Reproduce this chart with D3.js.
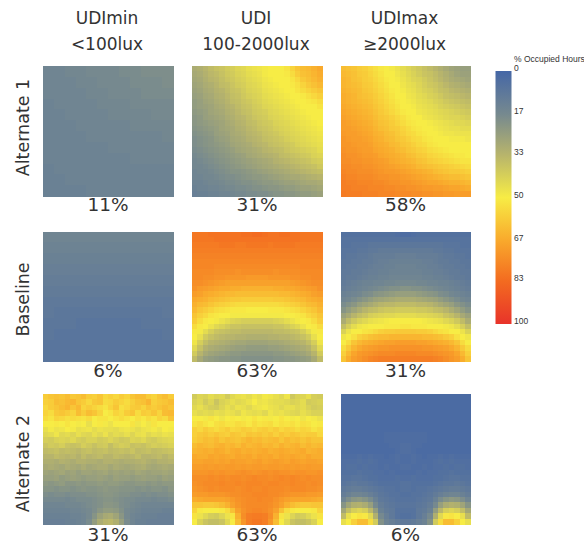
<!DOCTYPE html>
<html><head><meta charset="utf-8">
<script src="https://cdn.jsdelivr.net/npm/d3@7"></script>
<style>html,body{margin:0;padding:0;background:#fff}svg{display:block}</style>
</head><body><svg id="c" width="584" height="546"></svg>
<script>
const columnTitles = [["UDImin","<100lux"],["UDI","100-2000lux"],["UDImax","≥2000lux"]];
const rowTitles = ["Alternate 1","Baseline","Alternate 2"];
const percentLabels = [["11%","31%","58%"],["6%","63%","31%"],["31%","63%","6%"]];
const legendTitle = "% Occupied Hours";
const legendTicks = [0,17,33,50,67,83,100];
const colorStops = [0,17,33,50,67,83,100];
const colorValues = ["#4567a6","#76898f","#b7b46c","#f7ec45","#f9a92c","#f36b20","#e8332a"];

const alt1Min = [
[15,15,16,16,17,17,17,18,18,19,19,19],
[15,15,15,16,16,17,17,17,18,18,18,19],
[15,15,15,15,16,16,17,17,17,18,18,18],
[14,15,15,15,15,16,16,16,17,17,17,17],
[14,14,15,15,15,15,16,16,16,16,17,17],
[14,14,14,15,15,15,15,15,16,16,16,16],
[14,14,14,14,15,15,15,15,15,15,15,16],
[14,14,14,14,14,14,15,15,15,15,15,15],
[14,14,14,14,14,14,14,14,15,15,15,15],
[13,14,14,14,14,14,14,14,14,14,14,14],
[13,13,14,14,14,14,14,14,14,14,14,14],
[13,13,13,13,14,14,14,14,14,14,14,14]];
const alt1Udi = [
[30,31,33,35,37,38,40,41,43,44,46,47,48,49,50,50,50,52,56,60,62,63,65,67],
[29,30,32,34,35,37,39,40,42,43,45,46,47,49,50,50,50,51,54,58,61,62,64,66],
[28,29,31,33,34,36,38,39,41,42,44,45,46,48,49,50,50,50,52,55,59,61,63,65],
[27,28,30,31,33,35,36,38,40,41,43,44,45,47,48,49,50,50,51,53,56,59,61,63],
[26,27,29,30,32,33,35,37,38,40,42,43,44,46,47,48,49,50,50,52,54,56,58,60],
[25,26,28,29,31,32,34,36,37,39,41,42,43,45,46,47,48,49,50,50,51,53,55,57],
[24,25,27,28,30,31,33,35,36,38,39,41,42,44,45,46,47,48,49,50,50,51,52,54],
[24,25,26,27,29,30,32,33,35,37,38,40,41,43,44,45,46,47,48,49,50,50,50,52],
[23,24,25,27,28,29,31,32,34,36,37,39,40,41,43,44,45,46,47,48,49,50,50,50],
[22,23,25,26,27,28,30,31,33,34,36,38,39,40,42,43,44,45,46,47,48,49,50,50],
[22,23,24,25,26,27,29,30,32,33,35,36,38,39,40,42,43,44,45,46,47,48,49,50],
[21,22,23,24,25,27,28,29,31,32,34,35,37,38,39,41,42,43,44,45,46,47,48,49],
[20,21,22,23,25,26,27,29,30,31,33,34,35,37,38,39,41,42,43,44,45,46,47,48],
[19,20,21,22,24,25,26,28,29,30,32,33,34,36,37,38,39,41,42,43,44,45,46,47],
[19,20,21,22,23,24,25,27,28,29,30,32,33,34,36,37,38,39,40,42,43,44,45,46],
[18,19,20,21,22,23,24,25,27,28,29,30,31,33,34,35,36,38,39,40,41,42,43,45],
[17,18,19,20,21,22,23,24,25,26,28,29,30,31,32,33,35,36,37,38,39,40,42,43],
[16,17,18,19,20,21,22,23,24,25,26,27,28,29,30,32,33,34,35,36,37,38,40,41],
[16,16,17,18,19,20,21,22,23,24,25,26,27,28,29,30,31,32,33,34,35,36,37,39],
[15,16,16,17,18,19,20,21,21,22,23,24,25,26,27,28,29,30,31,32,33,34,35,36],
[15,15,16,16,17,18,19,19,20,21,22,23,23,24,25,26,27,28,29,29,30,31,32,33],
[14,14,15,16,16,17,18,18,19,20,20,21,22,23,23,24,25,26,26,27,28,29,29,30],
[13,14,14,15,15,16,17,17,18,18,19,20,20,21,22,22,23,24,24,25,26,26,27,28],
[12,13,13,14,14,15,15,16,17,17,18,18,19,19,20,21,21,22,22,23,24,24,25,26]];
const alt1Max = [
[62,61,60,58,57,55,53,51,50,49,47,45,43,41,39,37,35,33,31,29,27,26,25,25],
[63,62,61,59,58,56,54,52,50,50,48,46,44,42,40,38,37,35,33,31,29,27,26,26],
[64,63,61,60,58,57,55,53,51,50,49,47,45,43,42,40,38,36,34,32,30,29,28,27],
[64,63,62,61,59,58,56,54,52,50,50,48,46,45,43,41,39,38,36,34,32,31,30,29],
[65,64,63,62,60,59,57,55,53,51,50,49,47,46,44,42,41,39,37,36,34,33,32,31],
[66,65,64,62,61,60,58,56,54,52,50,50,48,47,45,44,42,41,39,37,36,35,34,33],
[66,65,64,63,62,61,59,57,55,53,51,50,49,48,46,45,44,42,41,39,38,37,36,35],
[67,66,65,64,63,62,60,58,56,54,52,50,50,49,47,46,45,44,42,41,40,39,38,37],
[68,67,66,65,64,63,61,59,57,55,53,51,50,50,48,47,46,45,44,43,42,41,40,39],
[69,68,67,66,65,64,62,60,59,57,55,53,51,50,50,48,47,46,45,44,43,43,42,41],
[70,69,68,67,66,65,63,61,60,58,56,54,52,51,50,50,49,48,47,46,45,44,44,43],
[70,70,69,68,67,66,64,62,61,59,58,56,54,52,51,50,50,49,48,47,46,46,45,45],
[71,70,70,69,68,67,65,64,62,61,59,57,55,54,52,51,50,50,49,48,48,47,47,47],
[72,71,70,70,69,68,66,65,63,62,60,59,57,55,54,52,51,50,50,50,49,49,49,48],
[72,72,71,70,70,69,67,66,65,63,62,60,59,57,55,54,52,51,50,50,50,50,50,50],
[73,72,72,71,70,70,68,67,66,65,63,62,60,59,57,56,54,53,52,51,50,50,50,50],
[74,73,73,72,71,71,70,68,67,66,65,64,62,61,59,58,56,55,54,53,52,51,51,50],
[74,74,73,73,72,72,71,70,69,67,66,65,64,63,61,60,58,57,56,55,54,53,52,52],
[75,75,74,74,73,73,72,71,70,69,68,67,66,65,63,62,61,60,59,58,57,56,55,54],
[76,75,75,74,74,74,73,72,71,71,70,69,68,67,66,65,64,62,61,60,59,59,58,57],
[77,76,76,75,75,75,74,73,73,72,72,71,70,69,68,67,66,65,64,63,62,62,61,60],
[78,77,77,76,76,76,75,75,74,73,73,72,72,71,70,69,68,68,67,66,65,65,64,63],
[78,78,77,77,77,76,76,76,75,75,74,74,73,73,72,71,71,70,70,69,68,68,67,66],
[79,78,78,78,77,77,77,76,76,76,75,75,75,74,74,73,73,72,72,71,71,70,70,70]];
const baseMin = [
[15,15,15,15,15,15,15,15,15,15,15,15],
[14,14,14,14,14,14,14,14,14,14,14,14],
[13,13,13,13,13,13,13,13,13,13,13,13],
[12,12,12,12,12,12,12,12,12,12,12,12],
[11,11,11,11,11,11,11,11,11,11,11,11],
[10,10,10,10,10,10,10,10,10,10,10,10],
[9,9,9,9,9,9,9,9,9,9,9,9],
[9,8,8,8,8,8,8,8,8,8,8,9],
[8,8,8,7,7,7,7,7,7,8,8,8],
[8,7,7,7,7,7,7,7,7,7,7,8],
[7,7,7,7,7,7,7,7,7,7,7,7],
[7,7,7,7,7,7,7,7,7,7,7,7]];
const baseUdi = [
[80,80,80,81,81,81,81,81,81,82,82,83,83,82,81,81,82,82,81,81,80,80,80,80],
[80,80,80,80,81,81,81,81,81,81,81,81,81,81,81,81,81,81,81,81,80,80,80,80],
[79,79,79,79,79,80,80,80,79,79,80,80,80,80,79,80,80,80,80,79,79,79,79,79],
[78,78,78,78,78,78,78,78,78,78,78,78,78,78,78,78,78,78,78,78,78,78,78,78],
[77,77,77,77,77,77,77,77,77,77,77,77,77,77,77,77,77,77,77,77,77,77,77,77],
[76,76,76,76,76,76,76,76,76,76,76,76,76,76,76,76,76,76,76,76,76,76,76,76],
[76,76,76,76,75,75,75,75,75,75,75,75,75,75,75,75,75,75,75,75,76,76,76,76],
[75,75,75,75,74,74,74,74,73,74,74,74,74,74,74,73,74,74,74,74,75,75,75,75],
[75,75,74,74,73,73,72,72,72,72,71,71,71,71,72,72,72,72,73,73,74,74,75,75],
[74,74,73,72,71,70,69,69,69,69,69,69,69,69,69,69,69,69,70,71,72,73,74,74],
[73,71,70,69,68,67,67,66,66,65,65,65,65,65,65,66,66,67,67,68,69,70,71,73],
[70,69,67,66,65,64,63,63,62,62,62,62,62,62,62,62,63,63,64,65,66,67,69,70],
[67,66,65,63,62,61,60,59,59,58,58,58,58,58,58,59,59,60,61,62,63,65,66,67],
[65,63,62,60,58,57,56,55,54,54,54,54,54,54,54,54,55,56,57,58,60,62,63,65],
[63,60,58,56,54,53,52,51,51,51,50,50,50,50,51,51,51,52,53,54,56,58,60,63],
[60,57,55,52,51,50,50,49,49,49,49,49,49,49,49,49,49,50,50,51,52,55,57,60],
[58,54,51,50,49,47,45,43,42,41,41,41,41,41,41,42,43,45,47,49,50,51,54,58],
[54,51,50,47,44,42,40,38,38,37,37,37,37,37,37,38,38,40,42,44,47,50,51,54],
[51,49,45,41,38,37,36,35,35,34,34,34,34,34,34,35,35,36,37,38,41,45,49,51],
[50,46,40,37,35,34,33,33,32,32,31,31,31,31,32,32,33,33,34,35,37,40,46,50],
[48,41,36,33,32,31,30,29,28,28,27,27,27,27,28,28,29,30,31,32,33,36,41,48],
[44,37,32,30,29,28,27,26,25,25,24,24,24,24,25,25,26,27,28,29,30,32,37,44],
[40,33,29,27,26,25,24,23,23,22,22,22,22,22,22,23,23,24,25,26,27,29,33,40],
[35,29,25,24,23,22,22,21,21,20,20,20,20,20,20,21,21,22,22,23,24,25,29,35]];
const baseMax = [
[5,5,5,5,5,5,5,5,5,5,4,3,3,4,5,5,5,5,5,5,5,5,5,5],
[6,6,6,6,6,6,6,6,6,6,6,6,6,6,6,6,6,6,6,6,6,6,6,6],
[6,6,7,7,7,8,8,8,8,8,8,8,8,8,8,8,8,8,8,7,7,7,6,6],
[7,7,7,8,8,9,9,10,10,10,10,10,10,10,10,10,10,9,9,8,8,7,7,7],
[7,8,8,9,9,10,11,11,11,11,12,12,12,12,11,11,11,11,10,9,9,8,8,7],
[8,8,9,9,10,10,11,12,12,13,13,13,13,13,13,12,12,11,10,10,9,9,8,8],
[8,9,9,10,10,11,12,12,13,13,14,14,14,14,13,13,12,12,11,10,10,9,9,8],
[9,9,10,10,11,12,12,13,13,14,14,14,14,14,14,13,13,12,12,11,10,10,9,9],
[9,10,10,11,12,13,13,14,14,15,15,15,15,15,15,14,14,13,13,12,11,10,10,9],
[10,11,12,13,14,14,15,15,16,16,17,17,17,17,16,16,15,15,14,14,13,12,11,10],
[11,12,13,14,15,16,17,18,19,20,20,21,21,20,20,19,18,17,16,15,14,13,12,11],
[13,14,15,16,18,19,21,22,23,24,25,25,25,25,24,23,22,21,19,18,16,15,14,13],
[15,16,18,20,22,24,26,27,28,29,30,30,30,30,29,28,27,26,24,22,20,18,16,15],
[18,20,22,25,27,29,31,33,34,34,35,35,35,35,34,34,33,31,29,27,25,22,20,18],
[21,24,27,30,33,35,36,38,39,39,40,40,40,40,39,39,38,36,35,33,30,27,24,21],
[26,29,33,36,38,41,42,43,44,44,45,45,45,45,44,44,43,42,41,38,36,33,29,26],
[30,35,39,42,44,46,47,48,49,50,50,50,50,50,50,49,48,47,46,44,42,39,35,30],
[36,41,45,48,49,50,50,50,51,51,51,52,52,51,51,51,50,50,50,49,48,45,41,36],
[42,47,50,50,52,53,55,57,58,58,59,59,59,59,58,58,57,55,53,52,50,50,47,42],
[48,50,53,57,59,61,62,63,63,64,64,64,64,64,64,63,63,62,61,59,57,53,50,48],
[50,54,60,63,65,66,67,68,69,69,70,70,70,70,69,69,68,67,66,65,63,60,54,50],
[54,59,64,67,69,70,71,72,72,73,73,73,73,73,73,72,72,71,70,69,67,64,59,54],
[57,63,68,71,72,73,74,75,75,75,76,76,76,76,75,75,75,74,73,72,71,68,63,57],
[60,66,70,72,74,76,77,78,78,78,78,78,78,78,78,78,78,77,76,74,72,70,66,60]];
const alt2Min = [
[58,60,61,60,62,59,60,62,58,57,60,55,57,55,58,56,60,62,62,58,56,60,62,58],
[57,58,62,61,63,64,60,58,55,59,60,54,55,58,56,54,57,60,61,64,57,59,60,62],
[55,58,60,62,64,60,63,56,58,56,54,52,56,60,53,55,58,59,56,60,58,60,62,60],
[56,54,59,60,58,56,62,58,62,60,56,50,52,56,54,58,60,54,58,57,60,56,62,63],
[54,52,56,55,53,54,53,52,54,50,52,52,50,52,54,52,50,53,51,54,52,56,54,60],
[50,50,51,50,52,50,49,50,46,50,51,49,47,50,50,50,52,48,50,48,52,50,50,50],
[46,49,47,48,50,49,46,47,48,45,47,46,46,45,47,48,47,45,47,48,49,47,50,49],
[44,45,48,44,45,43,46,44,43,46,44,47,43,45,44,46,43,46,47,44,46,45,47,46],
[41,40,42,43,42,44,41,40,42,42,40,41,43,41,39,40,43,42,44,41,40,42,43,44],
[38,40,39,41,38,37,38,41,39,37,39,40,36,39,41,40,37,38,37,39,41,40,41,42],
[35,36,37,35,36,35,34,36,37,35,36,37,35,36,37,36,38,35,36,37,35,36,37,38],
[33,33,35,34,33,34,32,35,33,34,35,33,33,35,34,33,34,36,33,33,34,35,33,35],
[31,31,30,32,31,30,32,32,31,31,30,32,32,31,30,31,31,32,33,31,30,32,32,33],
[29,30,29,28,30,29,28,30,28,29,30,30,28,30,29,28,29,30,31,29,28,29,30,29],
[27,26,27,28,26,27,25,27,27,26,27,28,26,27,26,27,26,28,27,26,27,27,28,27],
[25,25,26,24,25,26,25,24,25,25,26,25,24,26,25,25,24,25,26,25,25,24,26,25],
[23,22,23,24,22,22,23,22,23,23,24,23,24,24,23,22,22,23,23,22,23,22,23,23],
[21,21,20,21,21,20,21,22,21,21,22,23,22,22,21,21,21,20,21,20,21,21,20,22],
[19,18,19,19,18,19,19,19,20,20,21,22,22,21,20,20,19,19,18,19,18,19,19,20],
[17,17,17,17,16,17,18,18,18,19,20,21,21,20,19,18,18,17,17,17,16,17,17,18],
[15,15,15,15,16,16,16,17,18,19,20,22,22,21,19,18,17,16,15,15,15,15,15,15],
[14,14,14,14,14,15,15,16,17,19,22,24,24,23,20,17,16,15,14,14,14,14,13,13],
[13,13,13,13,13,14,14,15,17,21,26,29,30,27,22,17,15,14,13,13,13,12,12,12],
[12,12,12,12,13,13,14,15,18,24,30,33,34,31,25,18,15,13,13,12,12,12,12,12]];
const alt2Udi = [
[40,43,42,45,43,44,40,44,46,47,45,48,46,49,48,46,44,48,39,42,43,46,41,40],
[42,44,40,43,38,42,44,46,44,45,47,50,47,48,46,45,45,44,42,43,45,40,41,42],
[44,46,43,41,40,43,46,44,47,46,44,47,48,49,47,46,44,46,46,44,45,42,40,41],
[46,44,45,44,46,45,47,46,44,48,46,45,46,44,48,46,47,45,44,43,46,44,42,42],
[50,50,49,52,50,48,50,51,50,49,50,52,50,51,49,50,52,50,49,50,48,50,49,47],
[52,54,52,50,53,54,52,52,54,53,51,54,52,53,54,51,53,52,53,51,53,52,50,51],
[57,55,58,56,54,56,58,55,56,58,57,55,57,58,56,58,55,57,56,54,56,55,52,54],
[57,59,60,58,60,58,57,60,59,57,60,59,60,58,60,57,60,58,60,59,57,58,58,55],
[58,60,62,61,63,60,62,61,60,62,64,62,63,61,62,63,60,63,61,62,60,62,60,60],
[62,64,63,62,64,65,63,64,62,65,63,64,65,63,64,62,65,63,64,65,62,64,62,63],
[64,65,66,65,67,66,64,66,67,65,66,65,66,67,65,66,67,66,65,66,67,64,65,66],
[67,66,66,68,67,68,67,66,68,67,68,66,68,67,68,66,68,67,68,67,66,68,66,66],
[68,68,69,69,68,69,68,70,69,69,68,69,70,68,69,70,69,68,70,69,68,69,69,68],
[70,70,71,70,71,70,71,71,70,71,70,71,71,70,71,71,70,71,70,71,70,71,70,70],
[72,72,72,73,72,73,72,72,73,74,73,72,73,74,73,74,73,73,72,73,73,72,72,73],
[74,74,74,75,74,75,74,75,75,74,75,76,75,75,74,75,76,75,76,75,74,75,74,74],
[73,74,75,75,75,76,75,75,76,75,76,76,76,75,76,76,75,75,76,75,75,74,75,74],
[72,73,74,75,74,75,75,75,74,75,76,75,75,76,75,75,75,74,75,75,75,74,74,73],
[70,71,71,72,72,72,73,74,74,75,75,76,76,76,75,75,74,73,72,72,72,71,71,70],
[66,67,68,68,68,68,69,71,73,74,75,75,76,75,75,73,71,69,68,68,68,68,67,66],
[60,60,59,59,60,62,65,69,72,74,75,75,75,75,74,72,69,65,62,60,59,59,60,60],
[56,51,50,50,50,51,54,61,69,73,75,76,76,75,73,69,61,54,51,50,50,50,51,56],
[52,47,44,41,40,43,47,52,65,74,78,79,79,78,74,65,52,47,43,40,41,44,47,52],
[50,42,38,36,36,38,44,50,62,72,78,80,80,78,72,62,50,44,38,36,36,38,42,50]];
const alt2Max = [
[2,2,2,2,2,2,2,2,2,2,2,2,2,2,2,2,2,2,2,2,2,2,2,2],
[2,2,2,2,2,2,2,2,2,2,2,2,2,2,2,2,2,2,2,2,2,2,2,2],
[2,2,2,2,2,2,2,2,2,2,2,2,2,2,2,2,2,2,2,2,2,2,2,2],
[2,2,2,2,2,2,2,2,2,2,2,2,2,2,2,2,2,2,2,2,2,2,2,2],
[2,2,2,2,2,2,2,2,2,2,2,2,2,2,2,2,2,2,2,2,2,2,2,2],
[2,2,2,2,2,2,2,2,2,2,2,2,2,2,2,2,2,2,2,2,2,2,2,2],
[2,2,2,2,2,2,2,2,2,2,2,2,2,2,2,2,2,2,2,2,2,2,2,2],
[2,2,2,2,2,2,2,2,3,3,3,3,3,3,3,3,2,2,2,2,2,2,2,2],
[2,2,2,2,2,2,2,2,3,3,3,3,3,3,3,3,2,2,2,2,2,2,2,2],
[2,2,2,2,2,2,2,2,2,3,3,4,4,3,3,2,2,2,2,2,2,2,2,2],
[2,2,2,2,2,2,2,2,2,2,3,4,4,3,2,2,2,2,2,2,2,2,2,2],
[3,3,3,4,3,4,3,3,2,3,4,3,3,4,3,2,3,3,4,3,4,3,3,3],
[4,4,4,5,4,5,4,3,3,3,4,3,3,4,3,3,3,4,5,4,5,4,4,4],
[4,5,5,4,5,4,4,3,4,3,3,4,4,3,3,4,3,4,4,5,4,5,5,4],
[5,5,5,6,5,5,4,4,3,4,3,3,3,3,4,3,4,4,5,5,6,5,5,5],
[6,6,7,7,6,5,5,4,4,4,5,4,4,5,4,4,4,5,5,6,7,7,6,6],
[7,8,9,8,8,7,6,5,5,5,5,6,6,5,5,5,5,6,7,8,8,9,8,7],
[9,10,11,11,10,9,8,7,6,6,5,6,6,5,6,6,7,8,9,10,11,11,10,9],
[11,13,15,15,14,12,10,8,7,6,6,5,5,6,6,7,8,10,12,14,15,15,13,11],
[15,19,22,23,21,18,13,9,8,7,6,6,6,6,7,8,9,13,18,21,23,22,19,15],
[21,27,31,32,30,25,17,11,9,8,7,7,7,7,8,9,11,17,25,30,32,31,27,21],
[28,36,41,43,41,34,24,13,10,9,6,6,6,6,9,10,13,24,34,41,43,41,36,28],
[35,46,50,52,51,44,31,17,12,9,6,5,5,6,9,12,17,31,44,51,52,50,46,35],
[46,50,57,62,62,54,40,20,14,12,10,9,9,10,12,14,20,40,54,62,62,57,50,46]];
const panels = [[alt1Min,alt1Udi,alt1Max],[baseMin,baseUdi,baseMax],[alt2Min,alt2Udi,alt2Max]];

const W = 130;
const panelX = d3.scaleOrdinal().domain([0,1,2]).range([43,192,340.5]);
const panelY = d3.scaleOrdinal().domain([0,1,2]).range([66,231.5,394]);
const pctY = d3.scaleOrdinal().domain([0,1,2]).range([211,377,540.5]);
const rowLabelY = d3.scaleOrdinal().domain([0,1,2]).range([127.5,299.5,463.5]);
const color = d3.scaleLinear().domain(colorStops).range(colorValues).clamp(true);

const svg = d3.select("#c");
const textFont = "'DejaVu Sans'";
const ink = "#333";

panels.forEach((row,r)=>row.forEach((grid,c)=>{
  const band = d3.scaleBand().domain(d3.range(grid.length)).range([0,W]);
  const g = svg.append("g").attr("transform",`translate(${panelX(c)},${panelY(r)})`);
  g.selectAll("rect.cell").data(grid.flatMap((vals,j)=>vals.map((v,i)=>({i,j,v})))).join("rect")
    .attr("class","cell").attr("shape-rendering","crispEdges")
    .attr("x",d=>band(d.i)).attr("y",d=>band(d.j))
    .attr("width",band.bandwidth()+0.6).attr("height",band.bandwidth()+0.6)
    .attr("fill",d=>color(d.v));
  svg.append("text").attr("x",panelX(c)+W/2).attr("y",pctY(r)).attr("text-anchor","middle")
    .attr("font-family",textFont).attr("font-size",18.5).attr("fill",ink).text(percentLabels[r][c]);
}));

columnTitles.forEach((t,c)=>{
  t.forEach((s,k)=>svg.append("text").attr("x",panelX(c)+W/2-1).attr("y",24+k*26)
    .attr("text-anchor","middle").attr("font-family",textFont).attr("font-size",17)
    .attr("fill",ink).text(s));
});
rowTitles.forEach((s,r)=>{
  svg.append("text").attr("transform",`translate(29,${rowLabelY(r)}) rotate(-90)`)
    .attr("text-anchor","middle").attr("font-family",textFont).attr("font-size",17.5)
    .attr("fill",ink).text(s);
});

// legend
const legendY = d3.scaleLinear().domain([0,100]).range([71,324]);
const defs = svg.append("defs");
const grad = defs.append("linearGradient").attr("id","lg").attr("x1",0).attr("x2",0).attr("y1",0).attr("y2",1);
colorStops.forEach((s,i)=>grad.append("stop").attr("offset",s+"%").attr("stop-color",colorValues[i]));
svg.append("rect").attr("x",495.5).attr("y",legendY(0)).attr("width",16).attr("height",legendY(100)-legendY(0)).attr("fill","url(#lg)");
const axis = d3.axisRight(legendY).tickValues(legendTicks).tickSize(0).tickPadding(2.5).tickFormat(d3.format("d"));
const ag = svg.append("g").attr("transform","translate(511.5,-2.8)").call(axis);
ag.select(".domain").remove();
ag.selectAll("text").attr("font-family","'Liberation Sans'").attr("font-size",8.5).attr("fill",ink);
svg.append("text").attr("x",514).attr("y",62).attr("font-family","'Liberation Sans'").attr("font-size",8.5).attr("fill",ink).text(legendTitle);
</script></body></html>
